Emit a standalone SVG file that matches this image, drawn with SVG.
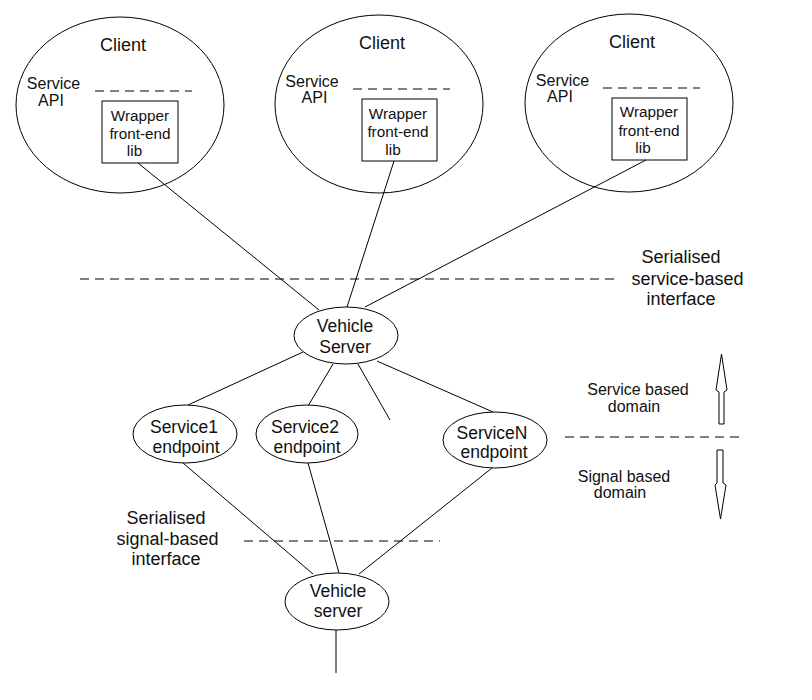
<svg xmlns="http://www.w3.org/2000/svg" width="812" height="700" viewBox="0 0 812 700">
<style>
  .shape { fill: #fff; stroke: #000; stroke-width: 1; }
  .line { stroke: #000; stroke-width: 1; fill: none; }
  .dash { stroke: #000; stroke-width: 1; fill: none; stroke-dasharray: 9 6; }
  text { font-family: "Liberation Sans", Arial, sans-serif; fill: #111; text-anchor: middle; }
  .big { font-size: 18px; }
  .mid { font-size: 17.5px; }
  .sm { font-size: 16px; }
  .box { font-size: 15.3px; }
</style>
<rect width="812" height="700" fill="#fff"/>

<g id="client1">
  <ellipse class="shape" cx="120" cy="105" rx="104" ry="88"/>
  <text class="big" x="123" y="51">Client</text>
  <text class="sm" x="53.5" y="89">Service</text>
  <text class="sm" x="51" y="106">API</text>
  <line class="dash" x1="95" y1="91" x2="192" y2="91"/>
  <rect class="shape" x="102" y="101" width="76" height="62"/>
  <text class="box" x="140" y="121">Wrapper</text>
  <text class="box" x="140" y="139">front-end</text>
  <text class="box" x="134.5" y="156">lib</text>
</g>

<g id="client2">
  <ellipse class="shape" cx="379" cy="104" rx="104" ry="89"/>
  <text class="big" x="382" y="49">Client</text>
  <text class="sm" x="312" y="87">Service</text>
  <text class="sm" x="314.5" y="103">API</text>
  <line class="dash" x1="353" y1="89" x2="450" y2="89"/>
  <rect class="shape" x="362" y="99" width="75" height="62"/>
  <text class="box" x="398" y="119">Wrapper</text>
  <text class="box" x="398" y="137">front-end</text>
  <text class="box" x="393" y="155">lib</text>
</g>

<g id="client3">
  <ellipse class="shape" cx="629" cy="103" rx="104" ry="89"/>
  <text class="big" x="632" y="48">Client</text>
  <text class="sm" x="562.5" y="86">Service</text>
  <text class="sm" x="560" y="102">API</text>
  <line class="dash" x1="603" y1="88" x2="700" y2="88"/>
  <rect class="shape" x="612" y="98" width="75" height="62"/>
  <text class="box" x="649" y="117">Wrapper</text>
  <text class="box" x="649" y="136">front-end</text>
  <text class="box" x="643" y="153">lib</text>
</g>

<g id="connectors">
  <line class="line" x1="138" y1="163" x2="319" y2="310"/>
  <line class="line" x1="394" y1="161" x2="347" y2="307"/>
  <line class="line" x1="646" y1="160" x2="365" y2="307"/>
  <line class="line" x1="303" y1="352" x2="188" y2="405"/>
  <line class="line" x1="333" y1="364" x2="308" y2="406"/>
  <line class="line" x1="358" y1="364" x2="390" y2="420"/>
  <line class="line" x1="377" y1="361" x2="493" y2="412"/>
  <line class="line" x1="183" y1="463" x2="313" y2="574"/>
  <line class="line" x1="308" y1="463" x2="339" y2="573"/>
  <line class="line" x1="492" y1="468" x2="359" y2="574"/>
  <line class="line" x1="336" y1="630" x2="336" y2="673"/>
</g>

<g id="service-interface">
  <line class="dash" x1="80" y1="279" x2="620" y2="279"/>
  <text class="big" x="681" y="263">Serialised</text>
  <text class="big" x="687.5" y="285">service-based</text>
  <text class="big" x="681" y="305">interface</text>
</g>

<g id="vehicle-server-top">
  <ellipse class="shape" cx="346" cy="335.5" rx="52" ry="28.5"/>
  <text class="mid" x="345" y="332">Vehicle</text>
  <text class="mid" x="345" y="353">Server</text>
</g>

<g id="service1">
  <ellipse class="shape" cx="185" cy="434" rx="52" ry="29"/>
  <text class="mid" x="184" y="433">Service1</text>
  <text class="mid" x="186" y="453">endpoint</text>
</g>

<g id="service2">
  <ellipse class="shape" cx="307" cy="434" rx="51" ry="29"/>
  <text class="mid" x="305" y="433">Service2</text>
  <text class="mid" x="307" y="453">endpoint</text>
</g>

<g id="serviceN">
  <ellipse class="shape" cx="495" cy="440" rx="52" ry="28"/>
  <text class="mid" x="492" y="439">ServiceN</text>
  <text class="mid" x="494" y="458">endpoint</text>
</g>

<g id="domains">
  <line class="dash" x1="565" y1="437" x2="740" y2="437"/>
  <text class="sm" x="638" y="395">Service based</text>
  <text class="sm" x="634" y="412">domain</text>
  <text class="sm" x="624" y="482">Signal based</text>
  <text class="sm" x="620" y="498">domain</text>
  <polygon class="shape" points="721.5,354 727,390 724,392 724,424 719,424 719,392 716,390"/>
  <polygon class="shape" points="717,450 723,450 723,483 726,485 720.5,519 715,485 717,483"/>
</g>

<g id="signal-interface">
  <line class="dash" x1="244" y1="541" x2="440" y2="541"/>
  <text class="big" x="166" y="524">Serialised</text>
  <text class="big" x="167.5" y="545">signal-based</text>
  <text class="big" x="166" y="565">interface</text>
</g>

<g id="vehicle-server-bottom">
  <ellipse class="shape" cx="337" cy="601.5" rx="52" ry="28.5"/>
  <text class="mid" x="338" y="597">Vehicle</text>
  <text class="mid" x="338" y="617">server</text>
</g>
</svg>
